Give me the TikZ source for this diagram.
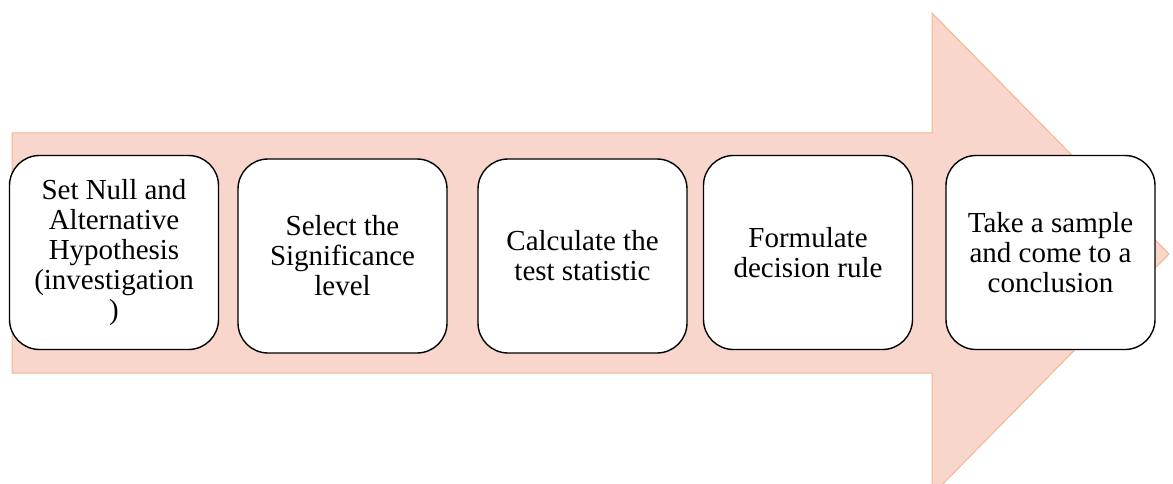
\documentclass[tikz,border=0pt]{standalone}
\usepackage{fontspec}
\setmainfont{LiberationSerif}[Extension=.ttf, UprightFont=*-Regular]
\definecolor{arrowfill}{HTML}{F8D6CB}
\definecolor{arrowline}{HTML}{F4B690}

\begin{document}
\begin{tikzpicture}[x=1pt, y=-1pt,
    stepbox/.style={draw=black, line width=1.4pt, fill=white, rounded corners=30pt,
        minimum width=209pt, minimum height=194pt, align=center,
        font=\fontsize{29}{30}\selectfont}]
        \clip (0,0) rectangle (1173,484);
        % big arrow behind the steps
        \draw[arrowline, fill=arrowfill, line width=1pt] (12,133) -- (932,133) -- (932,13) -- (1169,254)
            -- (932,495) -- (932,373) -- (12,373) -- cycle;
        \node[stepbox] (nullhyp) at (114,252.5) {Set Null and\\Alternative\\Hypothesis\\(investigation\\)};
        \node[stepbox] (siglevel) at (342.5,256) {Select the\\Significance\\level};
        \node[stepbox] (teststat) at (582.5,256) {Calculate the\\test statistic};
        \node[stepbox] (decrule) at (808,252.5) {Formulate\\decision rule};
        \node[stepbox] (conclude) at (1050.5,252.5) {Take a sample\\and come to a\\conclusion};
    \end{tikzpicture}
\end{document}
